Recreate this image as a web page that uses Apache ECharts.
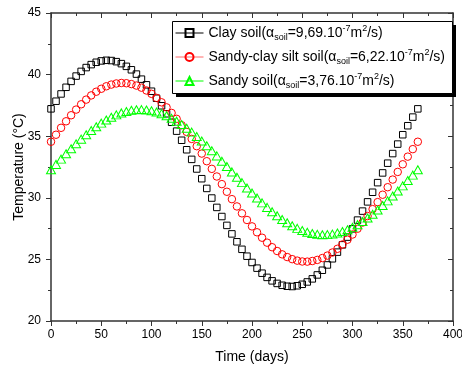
<!DOCTYPE html>
<html>
<head>
<meta charset="utf-8">
<script src="https://cdn.jsdelivr.net/npm/echarts@6/dist/echarts.min.js"></script>
<style>
html,body{margin:0;padding:0;background:#fff;}
#chart{width:462px;height:368px;}
</style>
</head>
<body>
<div id="chart"></div>
<script>
// Time (days)
var days = [0,5,10,15,20,25,30,35,40,45,50,55,60,65,70,75,80,85,90,95,100,105,110,115,120,125,130,135,140,145,150,155,160,165,170,175,180,185,190,195,200,205,210,215,220,225,230,235,240,245,250,255,260,265,270,275,280,285,290,295,300,305,310,315,320,325,330,335,340,345,350,355,360,365];

// Clay soil temperatures (°C)
var clay = [37.22,37.84,38.43,38.97,39.45,39.88,40.26,40.57,40.81,41.00,
  41.11,41.16,41.14,41.05,40.89,40.67,40.39,40.04,39.63,39.17,
  38.65,38.08,37.47,36.82,36.13,35.41,34.67,33.90,33.12,32.34,
  31.55,30.76,29.98,29.22,28.48,27.76,27.07,26.43,25.82,25.26,
  24.75,24.29,23.88,23.54,23.26,23.05,22.90,22.82,22.80,22.86,
  22.98,23.17,23.42,23.74,24.12,24.55,25.05,25.59,26.18,26.81,
  27.48,28.19,28.92,29.67,30.45,31.23,32.02,32.81,33.59,34.36,
  35.12,35.85,36.55,37.22];

// Sandy-clay silt soil temperatures (°C)
var sandyClay = [34.55,35.12,35.68,36.21,36.70,37.16,37.59,37.97,38.31,38.61,
  38.85,39.05,39.19,39.28,39.32,39.30,39.23,39.11,38.94,38.71,
  38.44,38.11,37.75,37.34,36.89,36.41,35.89,35.35,34.78,34.19,
  33.59,32.97,32.35,31.73,31.11,30.49,29.89,29.30,28.74,28.20,
  27.68,27.20,26.76,26.36,25.99,25.68,25.41,25.19,25.02,24.90,
  24.83,24.82,24.87,24.96,25.11,25.31,25.56,25.86,26.21,26.60,
  27.02,27.49,27.99,28.52,29.08,29.65,30.25,30.86,31.48,32.10,
  32.72,33.34,33.95,34.55];

// Sandy soil temperatures (°C)
var sandy = [32.28,32.71,33.14,33.57,33.98,34.38,34.76,35.12,35.46,35.77,
  36.06,36.31,36.54,36.73,36.89,37.01,37.10,37.15,37.16,37.13,
  37.07,36.97,36.83,36.66,36.45,36.22,35.95,35.65,35.33,34.98,
  34.61,34.22,33.82,33.40,32.97,32.54,32.10,31.67,31.23,30.80,
  30.39,29.98,29.59,29.22,28.87,28.54,28.24,27.97,27.73,27.52,
  27.34,27.20,27.10,27.03,27.00,27.01,27.05,27.14,27.26,27.41,
  27.60,27.82,28.08,28.36,28.67,29.01,29.37,29.75,30.14,30.55,
  30.97,31.40,31.84,32.28];

var seriesNames = ['Clay soil', 'Sandy-clay silt soil', 'Sandy soil'];
var alphaValues = ['9,69.10', '6,22.10', '3,76.10'];
var xTitle = 'Time (days)';
var yTitle = 'Temperature (°C)';

function pairs(vals) {
  return days.map(function (d, i) { return [d, vals[i]]; });
}

var FONT = 'Liberation Sans, Arial, sans-serif';
var axisCol = '#333';

var chart = echarts.init(document.getElementById('chart'), null, {renderer: 'canvas'});

function baseX(extra) {
  var o = {
    type: 'value', min: 0, max: 400, interval: 50,
    axisLine: {show: true, onZero: false, lineStyle: {color: axisCol, width: 1.5}},
    axisTick: {show: true, length: 5, lineStyle: {color: axisCol, width: 1}},
    minorTick: {show: true, splitNumber: 2, length: 3, lineStyle: {color: axisCol, width: 1}},
    splitLine: {show: false},
    minorSplitLine: {show: false}
  };
  for (var k in extra) o[k] = extra[k];
  return o;
}
function baseY(extra) {
  var o = {
    type: 'value', min: 20, max: 45, interval: 5,
    axisLine: {show: true, onZero: false, lineStyle: {color: axisCol, width: 1.5}},
    axisTick: {show: true, length: 5, lineStyle: {color: axisCol, width: 1}},
    minorTick: {show: true, splitNumber: 2, length: 3, lineStyle: {color: axisCol, width: 1}},
    splitLine: {show: false},
    minorSplitLine: {show: false}
  };
  for (var k in extra) o[k] = extra[k];
  return o;
}

var colors = ['#000000', '#ff0000', '#00ff00'];
var legendLineColors = ['#000000', '#ff6a6a', '#00ff00'];
var symbols = ['rect', 'circle', 'triangle'];
var symbolSizes = [6.5, 7.5, [9, 8]];
var dataSets = [clay, sandyClay, sandy];

var series = seriesNames.map(function (nm, i) {
  return {
    name: nm,
    type: 'line',
    xAxisIndex: 0, yAxisIndex: 0,
    data: pairs(dataSets[i]),
    symbol: symbols[i],
    symbolSize: symbolSizes[i],
    showSymbol: true,
    showAllSymbol: true,
    color: colors[i],
    lineStyle: {opacity: 0, width: 0},
    itemStyle: {color: 'rgba(0,0,0,0)', borderColor: colors[i], borderWidth: 1},
    emphasis: {disabled: true},
    animation: false,
    z: 2
  };
});

var option = {
  animation: false,
  backgroundColor: '#ffffff',
  textStyle: {fontFamily: FONT},
  grid: {left: 51, right: 9, top: 13, bottom: 47, containLabel: false, outerBoundsMode: 'none'},
  xAxis: [
    baseX({
      position: 'bottom',
      axisLabel: {fontSize: 12, color: '#000', margin: 8, fontFamily: FONT},
      name: xTitle, nameLocation: 'middle', nameGap: 29, nameMoveOverlap: false,
      nameTextStyle: {fontSize: 14, color: '#000', fontFamily: FONT}
    }),
    baseX({
      position: 'top',
      axisTick: {show: true, inside: true, length: 5, lineStyle: {color: axisCol, width: 1}},
      minorTick: {show: true, splitNumber: 2, length: 3, lineStyle: {color: axisCol, width: 1}},
      axisLabel: {show: false}
    })
  ],
  yAxis: [
    baseY({
      position: 'left',
      axisLabel: {fontSize: 12, color: '#000', margin: 10, fontFamily: FONT},
      name: yTitle, nameLocation: 'middle', nameGap: 25, nameMoveOverlap: false,
      nameTextStyle: {fontSize: 14, color: '#000', fontFamily: FONT}
    }),
    baseY({
      position: 'right',
      axisTick: {show: true, inside: true, length: 5, lineStyle: {color: axisCol, width: 1}},
      minorTick: {show: true, splitNumber: 2, length: 3, lineStyle: {color: axisCol, width: 1}},
      axisLabel: {show: false}
    })
  ],
  graphic: [
    {type: 'rect', z: 5, shape: {x: 176, y: 25, width: 280, height: 72}, style: {fill: '#000'}},
    {type: 'rect', z: 6, shape: {x: 172.5, y: 21.5, width: 280, height: 72}, style: {fill: '#fff', stroke: '#000', lineWidth: 1}}
  ],
  legend: {
    orient: 'vertical',
    left: 175, top: 24,
    padding: 0,
    itemGap: 6,
    itemWidth: 28,
    itemHeight: 10,
    z: 10,
    selectedMode: false,
    data: seriesNames.map(function (nm, i) {
      return {name: nm, lineStyle: {opacity: 1, width: 1, color: legendLineColors[i], type: 'solid'}};
    }),
    formatter: function (name) {
      var i = seriesNames.indexOf(name);
      return '{n|' + name + '(α}{sub|soil}{n|=' + alphaValues[i] + '}{sup|-7}{n|m}{sup|2}{n|/s)}';
    },
    textStyle: {
      fontFamily: FONT, color: '#000', fontSize: 14,
      rich: {
        n: {fontSize: 14, lineHeight: 18, color: '#000', fontFamily: FONT},
        sub: {fontSize: 9, lineHeight: 9, verticalAlign: 'bottom', color: '#000', fontFamily: FONT},
        sup: {fontSize: 9, lineHeight: 11, verticalAlign: 'top', color: '#000', fontFamily: FONT}
      }
    }
  },
  series: series
};

chart.setOption(option);
</script>
</body>
</html>
